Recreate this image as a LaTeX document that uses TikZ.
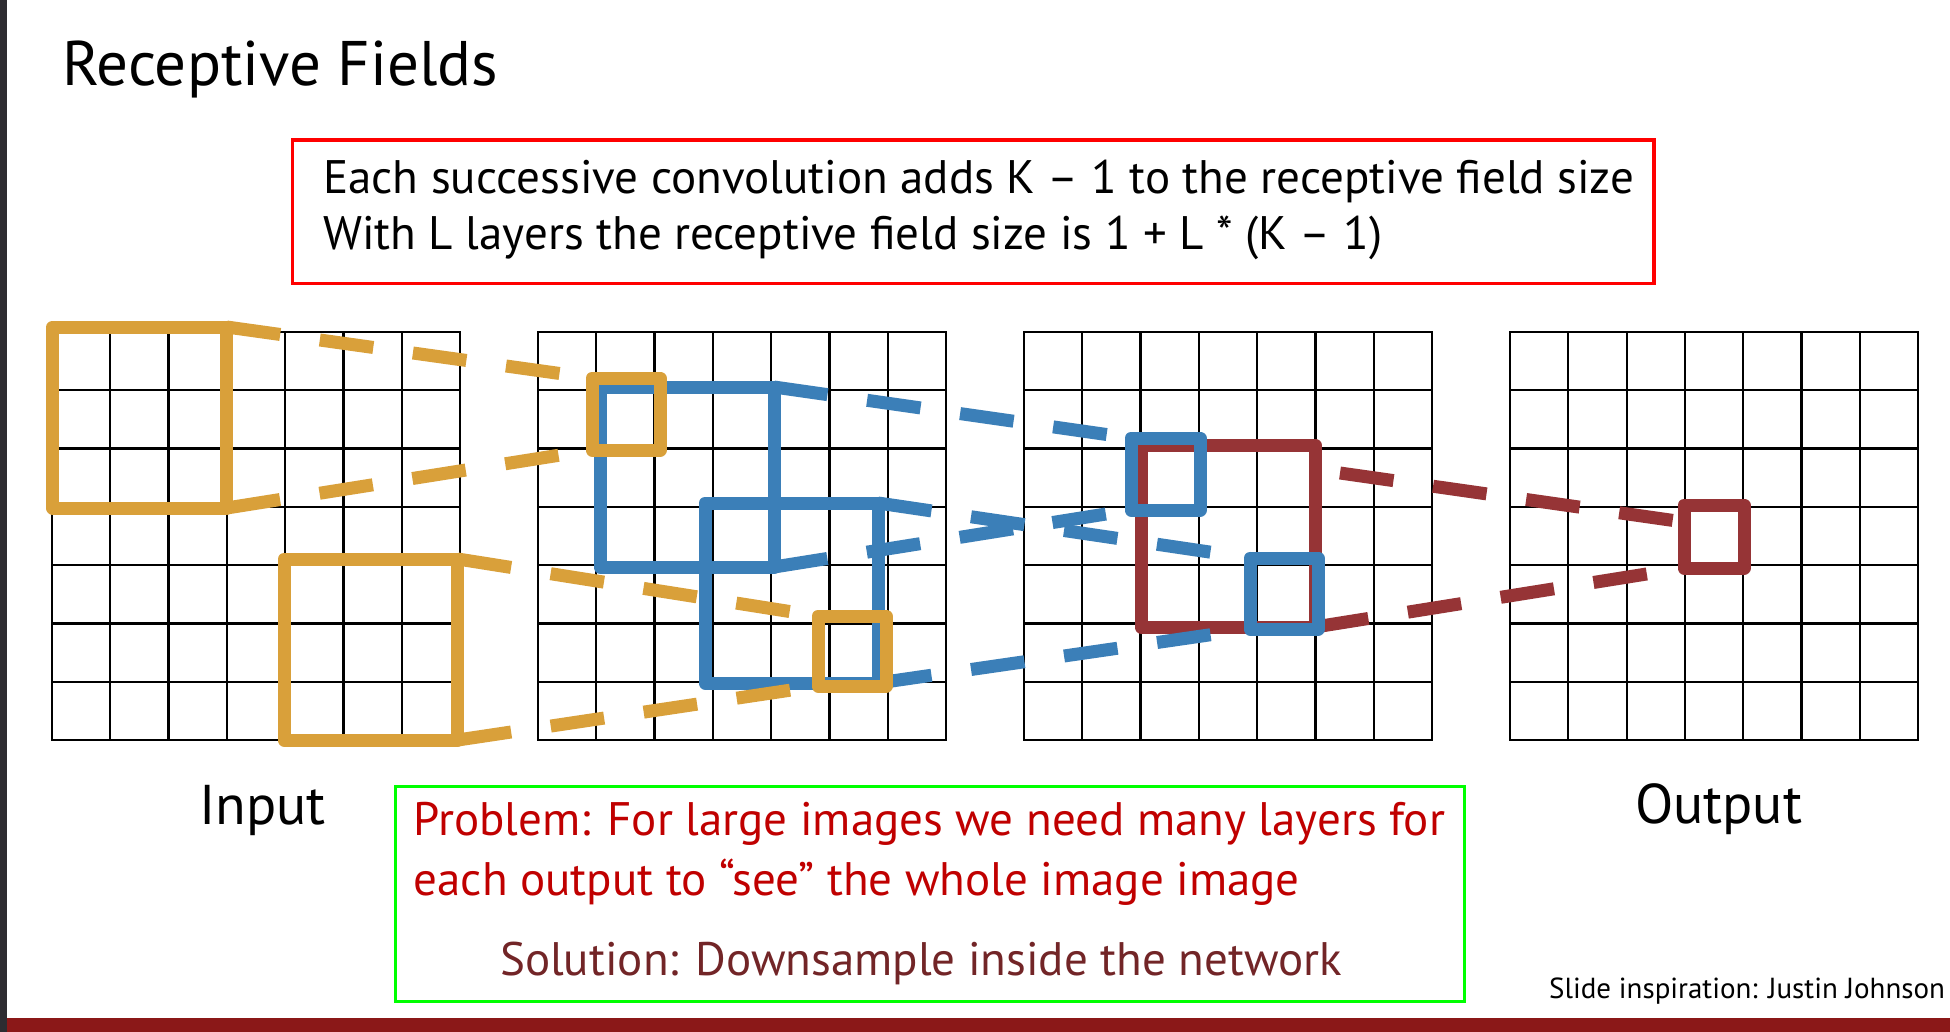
\documentclass[tikz,border=0pt]{standalone}
\usepackage{fontspec}
\setmainfont{PT Sans}
\usetikzlibrary{positioning}

\definecolor{fieldorange}{HTML}{D9A03A}
\definecolor{fieldblue}{HTML}{3B7FB8}
\definecolor{fieldred}{HTML}{963436}
\definecolor{problemred}{HTML}{C00000}
\definecolor{solutionred}{HTML}{722527}
\definecolor{barred}{HTML}{8B1818}
\definecolor{bargray}{HTML}{2D2C31}
\definecolor{framegreen}{HTML}{00FF00}

\begin{document}
\begin{tikzpicture}[
  x=1pt, y=-1pt,
  gridline/.style={line width=2.2pt, black, line cap=rect},
  field/.style={draw, line width=13pt, line join=round, inner sep=0pt, outer sep=0pt},
  bigfield/.style={field, minimum width=174pt, minimum height=181pt},
  smallfield/.style={field, minimum width=68pt, minimum height=71pt},
  reach/.style={line width=13pt, dash pattern=on 54pt off 40pt},
  framebox/.style={draw, anchor=north west, inner sep=0pt, outer sep=0pt},
  txt/.style={anchor=base west, inner sep=0pt},
  bodyfont/.style={font={\fontsize{47pt}{56pt}\selectfont}}
]
\useasboundingbox (0,0) rectangle (1950,1032);
\fill[white] (0,0) rectangle (1950,1032);
\fill[bargray] (0,0) rectangle (7,1032);
\fill[barred] (7,1018) rectangle (1950,1032);

% title
\node[txt, font={\fontsize{63pt}{74pt}\selectfont}] (title) at (62,86) {Receptive Fields};

% rule box
\node[framebox, draw=red, line width=3.3pt, minimum width=1361.5pt, minimum height=143.5pt] (rules) at (292.5,140) {};
\node[txt, bodyfont] (ruleA) at ([xshift=30.5pt, yshift=-54pt]rules.north west)
  {Each successive convolution adds K – 1 to the receptive field size};
\node[txt, bodyfont] (ruleB) at ([yshift=-56pt]ruleA.base west)
  {With L layers the receptive field size is 1 + L * (K – 1)};

% the four 7x7 layers
\def\cell{58.29}
\foreach \g/\layer in {0/input, 1/hiddenA, 2/hiddenB, 3/output} {
  \coordinate (\layer) at (52+486*\g, 332);
  \foreach \k in {0,...,7} {
    \draw[gridline] (52+486*\g+\k*\cell, 332) -- (52+486*\g+\k*\cell, 740);
    \draw[gridline] (52+486*\g, 332+\k*\cell) -- (52+486*\g+408, 332+\k*\cell);
  }
}

% red: third layer -> output
\node[bigfield, draw=fieldred, minimum height=182pt] (rA) at (1228,536) {};
\node[field, draw=fieldred, minimum width=60pt, minimum height=63pt] (rs) at (1714,536.5) {};
\coordinate (rgap) at (1340,473);
\draw[reach, fieldred] (rgap) -- ([yshift=14.5pt]rs.west);
\draw[reach, fieldred] (rA.south east) -- (rs.south west);

% blue: second layer -> third layer
\node[bigfield, draw=fieldblue, minimum height=180pt] (bA) at (687,477) {};
\node[bigfield, draw=fieldblue, minimum width=173pt, minimum height=180pt] (bB) at (791.5,593) {};
\node[smallfield, draw=fieldblue, minimum width=69pt, minimum height=72pt] (bs1) at (1165.5,474) {};
\node[smallfield, draw=fieldblue] (bs2) at (1284,593.5) {};
\draw[reach, fieldblue] (bA.north east) -- (bs1.north west);
\draw[reach, fieldblue] (bA.south east) -- (bs1.south west);
\draw[reach, fieldblue] (bB.north east) -- (bs2.north west);
\draw[reach, fieldblue] (bB.south east) -- (bs2.south west);

% orange: input -> second layer
\node[bigfield, draw=fieldorange] (oA) at (139.7,417.5) {};
\node[bigfield, draw=fieldorange, minimum width=173.7pt] (oB) at (370.9,649.5) {};
\node[smallfield, draw=fieldorange, minimum height=72pt] (o1) at (626,414) {};
\node[smallfield, draw=fieldorange, minimum height=70pt] (o2) at (852,651) {};
\draw[reach, fieldorange] (oA.north east) -- (o1.north west);
\draw[reach, fieldorange] (oA.south east) -- (o1.south west);
\draw[reach, fieldorange] (oB.north east) -- (o2.north west);
\draw[reach, fieldorange] (oB.south east) -- (o2.south west);

% layer labels
\node[txt, font={\fontsize{56pt}{66pt}\selectfont}] (inlabel) at (199,824) {Input};
\node[txt, font={\fontsize{56pt}{66pt}\selectfont}] (outlabel) at (1635,823) {Output};

% problem box
\node[framebox, draw=framegreen, line width=3pt, minimum width=1068.5pt, minimum height=215pt] (problem) at (395.5,786) {};
\node[txt, bodyfont, text=problemred] (probA) at ([xshift=18pt, yshift=-49pt]problem.north west)
  {Problem: For large images we need many layers for};
\node[txt, bodyfont, text=problemred] (probB) at ([yshift=-60pt]probA.base west)
  {each output to “see” the whole image image};
\node[bodyfont, anchor=base, inner sep=0pt, text=solutionred] (solution) at (921,975)
  {Solution: Downsample inside the network};

\node[txt, font={\fontsize{29pt}{35pt}\selectfont}] (credit) at (1549,998) {Slide inspiration: Justin Johnson};
\end{tikzpicture}
\end{document}
